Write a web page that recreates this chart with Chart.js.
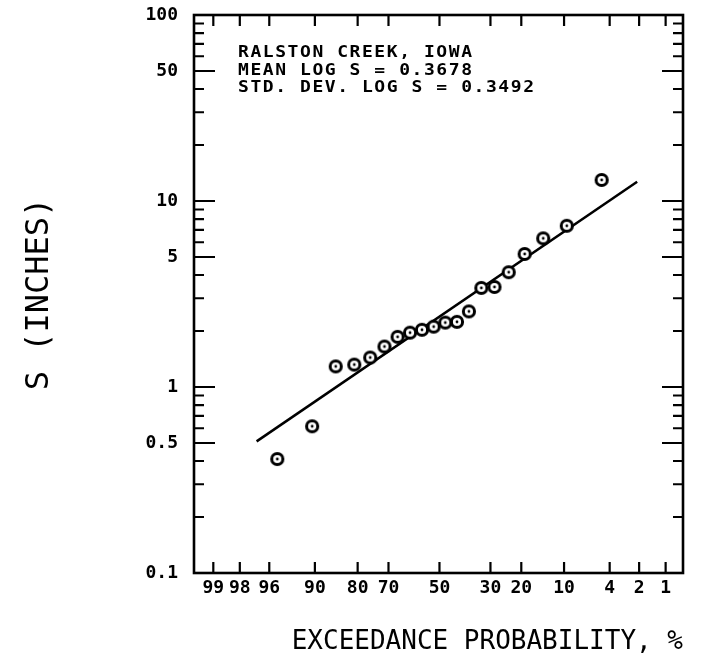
<!DOCTYPE html>
<html>
<head>
<meta charset="utf-8">
<script src="https://cdn.jsdelivr.net/npm/chart.js@4.4.1/dist/chart.umd.min.js"></script>
<style>
html, body { margin: 0; padding: 0; background: #fff; }
</style>
</head>
<body>
<canvas id="myChart" width="710" height="660"></canvas>
<script>
// exceedance probability (%) of each ranked value, left to right
var exceedance = [95.24, 90.48, 85.71, 80.95, 76.19, 71.43, 66.67, 61.90, 57.14, 52.38,
                  47.62, 42.86, 38.10, 33.33, 28.57, 23.81, 19.05, 14.29, 9.52, 4.76];
// S in inches
var sValues = [0.41, 0.615, 1.29, 1.32, 1.44, 1.65, 1.86, 1.96, 2.03, 2.11,
               2.22, 2.24, 2.55, 3.41, 3.45, 4.14, 5.19, 6.30, 7.36, 12.97];
// fitted line ends
var fitProb = [97, 2.1];
var fitS = [0.51, 12.7];
var probTicks = [99, 98, 96, 90, 80, 70, 50, 30, 20, 10, 4, 2, 1];
var sTicks = [100, 50, 10, 5, 1, 0.5, 0.1];
var notes = ['RALSTON CREEK, IOWA', 'MEAN LOG S = 0.3678', 'STD. DEV. LOG S = 0.3492'];

// inverse normal (Acklam)
function probit(p) {
    var a = [-3.969683028665376e+01, 2.209460984245205e+02, -2.759285104469687e+02, 1.383577518672690e+02, -3.066479806614716e+01, 2.506628277459239e+00];
    var b = [-5.447609879822406e+01, 1.615858368580409e+02, -1.556989798598866e+02, 6.680131188771972e+01, -1.328068155288572e+01];
    var c = [-7.784894002430293e-03, -3.223964580411365e-01, -2.400758277161838e+00, -2.549732539343734e+00, 4.374664141464968e+00, 2.938163982698783e+00];
    var d = [7.784695709041462e-03, 3.224671290700398e-01, 2.445134137142996e+00, 3.754408661907416e+00];
    var pl = 0.02425, q, r;
    if (p < pl) {
        q = Math.sqrt(-2 * Math.log(p));
        return (((((c[0]*q+c[1])*q+c[2])*q+c[3])*q+c[4])*q+c[5]) / ((((d[0]*q+d[1])*q+d[2])*q+d[3])*q+1);
    }
    if (p > 1 - pl) {
        q = Math.sqrt(-2 * Math.log(1 - p));
        return -(((((c[0]*q+c[1])*q+c[2])*q+c[3])*q+c[4])*q+c[5]) / ((((d[0]*q+d[1])*q+d[2])*q+d[3])*q+1);
    }
    q = p - 0.5; r = q * q;
    return (((((a[0]*r+a[1])*r+a[2])*r+a[3])*r+a[4])*r+a[5])*q / (((((b[0]*r+b[1])*r+b[2])*r+b[3])*r+b[4])*r+1);
}
function zOf(pExc) { return probit(1 - pExc / 100); }

// circle with a dot in the middle
var marker = document.createElement('canvas');
marker.width = 20; marker.height = 20;
var mc = marker.getContext('2d');
mc.fillStyle = '#fff';
mc.beginPath(); mc.arc(10, 10, 5.6, 0, 2 * Math.PI); mc.fill();
mc.lineWidth = 3; mc.strokeStyle = '#000'; mc.stroke();
mc.fillStyle = '#000';
mc.beginPath(); mc.arc(10, 10, 1.4, 0, 2 * Math.PI); mc.fill();

var frameTicks = {
    id: 'frameTicks',
    afterDraw: function(chart) {
        var ctx = chart.ctx, a = chart.chartArea, xs = chart.scales.x, ys = chart.scales.y;
        ctx.save();
        ctx.strokeStyle = '#000';
        ctx.lineWidth = 2.6;
        ctx.strokeRect(a.left, a.top, a.right - a.left, a.bottom - a.top);
        ctx.lineWidth = 2.2;
        ctx.beginPath();
        probTicks.forEach(function(p) {
            var x = xs.getPixelForValue(zOf(p));
            ctx.moveTo(x, a.top); ctx.lineTo(x, a.top + 11);
            ctx.moveTo(x, a.bottom); ctx.lineTo(x, a.bottom - 11);
        });
        [0.1, 1, 10].forEach(function(dec) {
            for (var k = 1; k <= 10; k++) {
                var y = ys.getPixelForValue(dec * k);
                var len = (k == 1 || k == 5 || k == 10) ? 21 : 10;
                ctx.moveTo(a.left, y); ctx.lineTo(a.left + len, y);
                ctx.moveTo(a.right, y); ctx.lineTo(a.right - len, y);
            }
        });
        ctx.stroke();
        // note text, stretched a little like the plotter letters
        ctx.fillStyle = '#000';
        ctx.font = 'bold 15px "DejaVu Sans Mono"';
        ctx.textBaseline = 'alphabetic';
        ctx.textAlign = 'left';
        ctx.scale(1.2, 1);
        ctx.letterSpacing = '1.3px';
        var base = [57, 74.5, 92];
        notes.forEach(function(t, i) { ctx.fillText(t, 238 / 1.2, base[i]); });
        ctx.restore();
    }
};

var ctx = document.getElementById('myChart').getContext('2d');
var chart = new Chart(ctx, {
    type: 'scatter',
    data: {
        datasets: [{
            data: exceedance.map(function(p, i) { return {x: zOf(p), y: sValues[i]}; }),
            pointStyle: marker,
            pointRadius: 7
        }, {
            data: fitProb.map(function(p, i) { return {x: zOf(p), y: fitS[i]}; }),
            showLine: true,
            borderColor: '#000',
            borderWidth: 2.5,
            pointRadius: 0
        }]
    },
    options: {
        responsive: false,
        animation: false,
        layout: { autoPadding: false, padding: {top: 15, right: 27, left: 0, bottom: 0} },
        plugins: { legend: {display: false}, tooltip: {enabled: false} },
        scales: {
            x: {
                type: 'linear', min: -2.525, max: 2.505,
                grid: {display: false, drawTicks: false},
                border: {display: false},
                afterBuildTicks: function(scale) {
                    scale.ticks = probTicks.map(function(p) { return {value: zOf(p)}; });
                },
                ticks: {
                    autoSkip: false, maxRotation: 0, padding: 5, color: '#000',
                    font: {family: 'DejaVu Sans Mono', weight: 'bold', size: 18},
                    callback: function(v, i) { return String(probTicks[i]); }
                },
                title: {
                    display: true, text: 'EXCEEDANCE PROBABILITY, %', align: 'end', color: '#000',
                    font: {family: 'DejaVu Sans Mono', size: 26}, padding: {top: 0, bottom: 2}
                },
                afterFit: function(scale) {
                    scale.height = 87;
                    scale.paddingLeft = 0; scale.paddingRight = 0;
                }
            },
            y: {
                type: 'logarithmic', min: 0.1, max: 100,
                grid: {display: false, drawTicks: false},
                border: {display: false},
                afterBuildTicks: function(scale) {
                    scale.ticks = sTicks.map(function(v) { return {value: v}; });
                },
                ticks: {
                    autoSkip: false, padding: 16, color: '#000',
                    font: {family: 'DejaVu Sans Mono', weight: 'bold', size: 18},
                    callback: function(v) { return String(v); }
                },
                title: {
                    display: true, text: 'S (INCHES)', color: '#000',
                    font: {family: 'DejaVu Sans Mono', size: 32}, padding: {top: 20, bottom: 0}
                },
                afterFit: function(scale) {
                    scale.width = 194;
                    scale.paddingTop = 0; scale.paddingBottom = 0;
                }
            }
        }
    },
    plugins: [frameTicks]
});
</script>
</body>
</html>
